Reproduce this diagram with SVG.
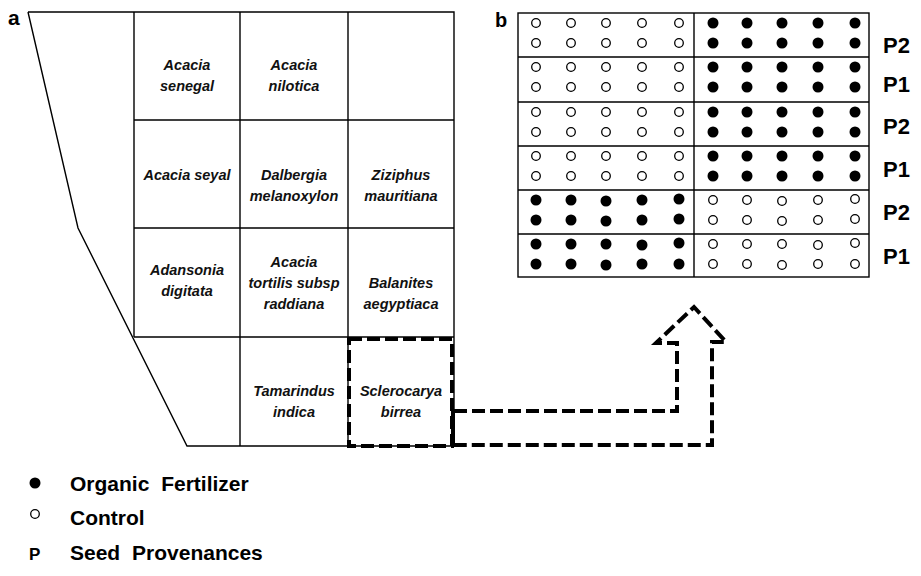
<svg xmlns="http://www.w3.org/2000/svg" xmlns:xlink="http://www.w3.org/1999/xlink" width="921" height="576" viewBox="0 0 921 576">
<style>
.ln{fill:none;stroke:#000;stroke-width:1.4}
.sp{font-family:"Liberation Sans",Arial,sans-serif;font-weight:bold;font-style:italic;font-size:14.5px;text-anchor:middle;fill:#111}
.lab{font-family:"Liberation Sans",Arial,sans-serif;font-weight:bold;fill:#000}
.dash{fill:none;stroke:#000;stroke-width:4;stroke-dasharray:13 5}
</style>
<defs>
<circle id="fc" r="5.5" fill="#000"/>
<circle id="oc" r="4.3" fill="#fff" stroke="#000" stroke-width="1.3"/>
</defs>
<rect width="921" height="576" fill="#fff"/>
<g id="panel-a">
<text class="lab" x="8" y="25" font-size="21">a</text>
<path class="ln" d="M28,12 L78,228 L187,446 H454 V12 H28"/>
<path class="ln" d="M134,12 V337 M240,12 V446 M348,12 V446 M134,120 H454 M134,228 H454 M134,337 H454"/>
</g>
<g id="cell-acacia-senegal"><text class="sp" x="187" y="70">Acacia</text><text class="sp" x="187" y="91">senegal</text></g>
<g id="cell-acacia-nilotica"><text class="sp" x="294" y="70">Acacia</text><text class="sp" x="294" y="91">nilotica</text></g>
<g id="cell-acacia-seyal"><text class="sp" x="187" y="180">Acacia seyal</text></g>
<g id="cell-dalbergia"><text class="sp" x="294" y="180">Dalbergia</text><text class="sp" x="294" y="201">melanoxylon</text></g>
<g id="cell-ziziphus"><text class="sp" x="401" y="180">Ziziphus</text><text class="sp" x="401" y="201">mauritiana</text></g>
<g id="cell-adansonia"><text class="sp" x="187" y="275">Adansonia</text><text class="sp" x="187" y="296">digitata</text></g>
<g id="cell-acacia-tortilis"><text class="sp" x="294" y="267">Acacia</text><text class="sp" x="294" y="288">tortilis subsp</text><text class="sp" x="294" y="309">raddiana</text></g>
<g id="cell-balanites"><text class="sp" x="401" y="288">Balanites</text><text class="sp" x="401" y="309">aegyptiaca</text></g>
<g id="cell-tamarindus"><text class="sp" x="294" y="396">Tamarindus</text><text class="sp" x="294" y="417">indica</text></g>
<g id="cell-sclerocarya"><text class="sp" x="401" y="396">Sclerocarya</text><text class="sp" x="401" y="417">birrea</text>
<rect class="dash" x="349" y="339" width="103" height="107" stroke-dasharray="12 6"/></g>
<g id="connectors">
<path class="dash" d="M454,411 H677 V343 H656 L694,307 L726,342 H712 V445 H454"/>
<line x1="453" y1="409" x2="453" y2="447" stroke="#000" stroke-width="4"/>
</g>
<g id="panel-b">
<text class="lab" x="495" y="27" font-size="20">b</text>
<rect class="ln" x="518" y="13" width="351" height="264"/>
<path class="ln" d="M694,13 V277 M518,57 H869 M518,102 H869 M518,146 H869 M518,190 H869 M518,234 H869"/>
<g id="row1">
<use href="#oc" x="536" y="23"/><use href="#oc" x="571" y="23"/><use href="#oc" x="606" y="23"/><use href="#oc" x="642" y="23"/><use href="#oc" x="679" y="23"/>
<use href="#oc" x="536" y="43"/><use href="#oc" x="571" y="43"/><use href="#oc" x="606" y="43"/><use href="#oc" x="642" y="43"/><use href="#oc" x="679" y="43"/>
<use href="#fc" x="713" y="23"/><use href="#fc" x="747" y="23"/><use href="#fc" x="782" y="23"/><use href="#fc" x="818" y="23"/><use href="#fc" x="855" y="23"/>
<use href="#fc" x="713" y="43"/><use href="#fc" x="747" y="43"/><use href="#fc" x="782" y="43"/><use href="#fc" x="818" y="43"/><use href="#fc" x="855" y="43"/>
<text class="lab" x="883" y="53" font-size="22">P2</text></g>
<g id="row2">
<use href="#oc" x="536" y="67"/><use href="#oc" x="571" y="67"/><use href="#oc" x="606" y="67"/><use href="#oc" x="642" y="67"/><use href="#oc" x="679" y="67"/>
<use href="#oc" x="536" y="87"/><use href="#oc" x="571" y="87"/><use href="#oc" x="606" y="87"/><use href="#oc" x="642" y="87"/><use href="#oc" x="679" y="87"/>
<use href="#fc" x="713" y="67"/><use href="#fc" x="747" y="67"/><use href="#fc" x="782" y="67"/><use href="#fc" x="818" y="67"/><use href="#fc" x="855" y="67"/>
<use href="#fc" x="713" y="87"/><use href="#fc" x="747" y="87"/><use href="#fc" x="782" y="87"/><use href="#fc" x="818" y="87"/><use href="#fc" x="855" y="87"/>
<text class="lab" x="883" y="92" font-size="22">P1</text></g>
<g id="row3">
<use href="#oc" x="536" y="112"/><use href="#oc" x="571" y="112"/><use href="#oc" x="606" y="112"/><use href="#oc" x="642" y="112"/><use href="#oc" x="679" y="112"/>
<use href="#oc" x="536" y="132"/><use href="#oc" x="571" y="132"/><use href="#oc" x="606" y="132"/><use href="#oc" x="642" y="132"/><use href="#oc" x="679" y="132"/>
<use href="#fc" x="713" y="112"/><use href="#fc" x="747" y="112"/><use href="#fc" x="782" y="112"/><use href="#fc" x="818" y="112"/><use href="#fc" x="855" y="112"/>
<use href="#fc" x="713" y="132"/><use href="#fc" x="747" y="132"/><use href="#fc" x="782" y="132"/><use href="#fc" x="818" y="132"/><use href="#fc" x="855" y="132"/>
<text class="lab" x="883" y="134" font-size="22">P2</text></g>
<g id="row4">
<use href="#oc" x="536" y="156"/><use href="#oc" x="571" y="156"/><use href="#oc" x="606" y="156"/><use href="#oc" x="642" y="156"/><use href="#oc" x="679" y="156"/>
<use href="#oc" x="536" y="176"/><use href="#oc" x="571" y="176"/><use href="#oc" x="606" y="176"/><use href="#oc" x="642" y="176"/><use href="#oc" x="679" y="176"/>
<use href="#fc" x="713" y="156"/><use href="#fc" x="747" y="156"/><use href="#fc" x="782" y="156"/><use href="#fc" x="818" y="156"/><use href="#fc" x="855" y="156"/>
<use href="#fc" x="713" y="176"/><use href="#fc" x="747" y="176"/><use href="#fc" x="782" y="176"/><use href="#fc" x="818" y="176"/><use href="#fc" x="855" y="176"/>
<text class="lab" x="883" y="177" font-size="22">P1</text></g>
<g id="row5">
<use href="#fc" x="536" y="200"/><use href="#fc" x="571" y="200"/><use href="#fc" x="606" y="201"/><use href="#fc" x="642" y="200"/><use href="#fc" x="679" y="199"/>
<use href="#fc" x="536" y="220"/><use href="#fc" x="571" y="220"/><use href="#fc" x="606" y="221"/><use href="#fc" x="642" y="220"/><use href="#fc" x="679" y="219"/>
<use href="#oc" x="713" y="200"/><use href="#oc" x="747" y="200"/><use href="#oc" x="782" y="201"/><use href="#oc" x="818" y="200"/><use href="#oc" x="855" y="199"/>
<use href="#oc" x="713" y="220"/><use href="#oc" x="747" y="220"/><use href="#oc" x="782" y="221"/><use href="#oc" x="818" y="220"/><use href="#oc" x="855" y="219"/>
<text class="lab" x="883" y="220" font-size="22">P2</text></g>
<g id="row6">
<use href="#fc" x="536" y="244"/><use href="#fc" x="571" y="244"/><use href="#fc" x="606" y="244"/><use href="#fc" x="642" y="245"/><use href="#fc" x="679" y="243"/>
<use href="#fc" x="536" y="264"/><use href="#fc" x="571" y="264"/><use href="#fc" x="606" y="265"/><use href="#fc" x="642" y="264"/><use href="#fc" x="679" y="264"/>
<use href="#oc" x="713" y="244"/><use href="#oc" x="747" y="244"/><use href="#oc" x="782" y="244"/><use href="#oc" x="818" y="245"/><use href="#oc" x="855" y="243"/>
<use href="#oc" x="713" y="264"/><use href="#oc" x="747" y="264"/><use href="#oc" x="782" y="265"/><use href="#oc" x="818" y="264"/><use href="#oc" x="855" y="264"/>
<text class="lab" x="883" y="264" font-size="22">P1</text></g>
</g>
<g id="legend">
<circle cx="35" cy="483" r="5.5" fill="#000"/>
<text class="lab" x="70" y="491" font-size="21" word-spacing="6">Organic Fertilizer</text>
<circle cx="35" cy="514" r="4.3" fill="#fff" stroke="#000" stroke-width="1.3"/>
<text class="lab" x="70" y="525" font-size="21">Control</text>
<text class="lab" x="29" y="560" font-size="17">P</text>
<text class="lab" x="70" y="560" font-size="21" word-spacing="6">Seed Provenances</text>
</g>
</svg>
